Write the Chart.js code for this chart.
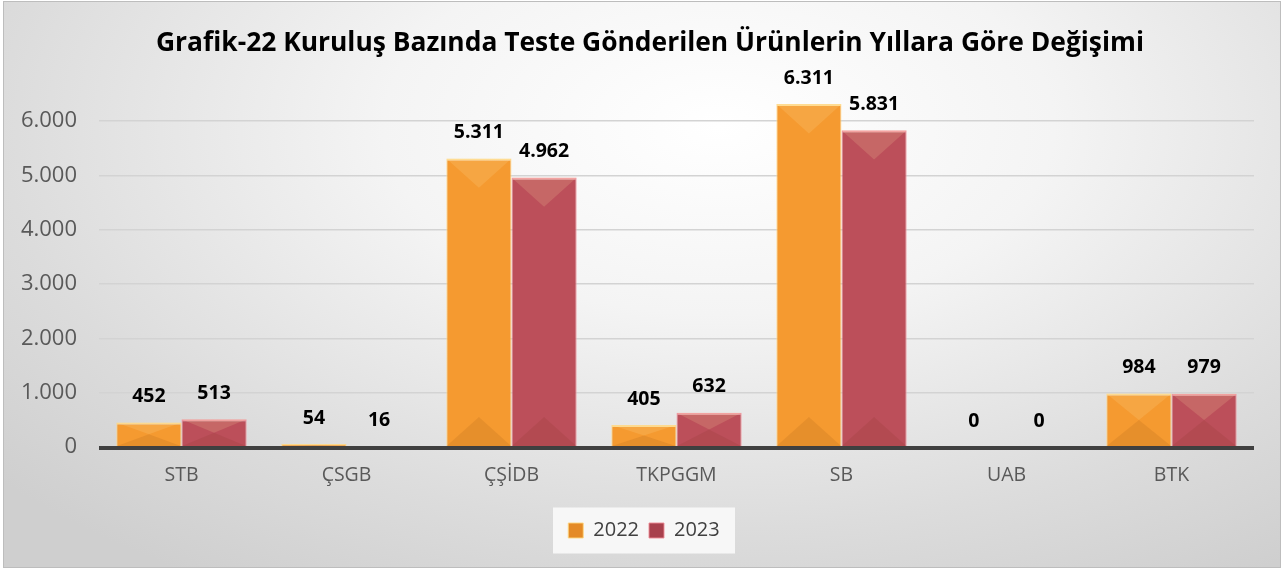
<!DOCTYPE html>
<html>
<head>
<meta charset="utf-8">
<script src="https://cdn.jsdelivr.net/npm/chart.js@4.4.1/dist/chart.umd.min.js"></script>
<style>
  html, body { margin: 0; padding: 0; }
  body { width: 1283px; height: 569px; overflow: hidden; background: #fff; }
  .frame {
    position: absolute; left: 3px; top: 1px; width: 1276px; height: 565px;
    border: 1px solid #bdbdbd;
    background: radial-gradient(ellipse 75% 95% at 56% 22%, #ffffff 0%, #f4f4f4 35%, #dcdcdc 75%, #cfcfcf 100%);
  }
  canvas { position: absolute; left: 0; top: 0; }
</style>
</head>
<body>
<div class="frame"></div>
<canvas id="c" width="1283" height="569"></canvas>
<script>
// Grafik-22: products sent for testing, by institution, 2022 vs 2023
const categories = ['STB', 'ÇSGB', 'ÇŞİDB', 'TKPGGM', 'SB', 'UAB', 'BTK'];
const seriesNames = ['2022', '2023'];
const values2022 = [452, 54, 5311, 405, 6311, 0, 984];
const values2023 = [513, 16, 4962, 632, 5831, 0, 979];
const yTicks = [0, 1000, 2000, 3000, 4000, 5000, 6000];

const FONT = '"Open Sans", "DejaVu Sans", sans-serif';
const fmt = (n) => new Intl.NumberFormat('tr-TR').format(n);

// horizontal shading so the bars read as the bevelled Excel columns
function barFill(base, light, dark) {
  return (ctx) => {
    const el = ctx.element;
    if (!el || el.x == null || !isFinite(el.width)) return base;
    const c = ctx.chart.ctx;
    const g = c.createLinearGradient(el.x - el.width / 2, 0, el.x + el.width / 2, 0);
    g.addColorStop(0, light);
    g.addColorStop(0.55, base);
    g.addColorStop(1, dark);
    return g;
  };
}

// pyramid bevel: light wedge at the top of each column, dark wedge at the foot
const bevel = {
  id: 'bevel',
  afterDatasetsDraw(chart) {
    const { ctx } = chart;
    ctx.save();
    chart.data.datasets.forEach((ds, i) => {
      chart.getDatasetMeta(i).data.forEach((bar) => {
        const h = bar.base - bar.y;
        if (h < 2) return;
        const l = bar.x - bar.width / 2, r = bar.x + bar.width / 2;
        const d = Math.min(bar.width * 0.45, h / 2);
        ctx.fillStyle = 'rgba(255,230,170,0.16)';
        ctx.beginPath();
        ctx.moveTo(l, bar.y); ctx.lineTo(r, bar.y); ctx.lineTo(bar.x, bar.y + d); ctx.closePath();
        ctx.fill();
        ctx.fillStyle = 'rgba(90,30,0,0.09)';
        ctx.beginPath();
        ctx.moveTo(l, bar.base); ctx.lineTo(r, bar.base); ctx.lineTo(bar.x, bar.base - d); ctx.closePath();
        ctx.fill();
      });
    });
    ctx.restore();
  },
};

const valueLabels = {
  id: 'valueLabels',
  afterDatasetsDraw(chart) {
    const { ctx } = chart;
    ctx.save();
    ctx.font = `bold 19.5px ${FONT}`;
    ctx.fillStyle = '#000';
    ctx.textAlign = 'center';
    ctx.textBaseline = 'middle';
    chart.data.datasets.forEach((ds, i) => {
      chart.getDatasetMeta(i).data.forEach((bar, j) => {
        ctx.fillText(fmt(ds.data[j]), bar.x, bar.y - 26);
      });
    });
    ctx.restore();
  },
};

// the original centres title and legend a little right of the canvas middle
const recentre = {
  id: 'recentre',
  afterLayout(chart) {
    if (chart.titleBlock) chart.titleBlock.left += 46;
    if (chart.legend) chart.legend.left += 34;
  },
};

// pale box behind the legend, as in the original
const legendBox = {
  id: 'legendBox',
  beforeDraw(chart) {
    const l = chart.legend;
    if (!l) return;
    const { ctx } = chart;
    const cx = (l.left + l.right) / 2;
    ctx.save();
    ctx.fillStyle = 'rgba(250,250,250,0.9)';
    ctx.fillRect(cx - 91, l.top - 3, 182, l.height + 6);
    ctx.restore();
  },
};

// thick dark zero line
const zeroLine = {
  id: 'zeroLine',
  afterDatasetsDraw(chart) {
    const { ctx, chartArea } = chart;
    const y = chart.scales.y.getPixelForValue(0);
    ctx.save();
    ctx.strokeStyle = '#404040';
    ctx.lineWidth = 4;
    ctx.beginPath();
    ctx.moveTo(chartArea.left, y + 1);
    ctx.lineTo(chartArea.right, y + 1);
    ctx.stroke();
    ctx.restore();
  },
};

new Chart(document.getElementById('c'), {
  type: 'bar',
  data: {
    labels: categories,
    datasets: [
      {
        label: seriesNames[0],
        data: values2022,
        backgroundColor: barFill('#f59a30', '#f9a53a', '#e48a26'),
        borderColor: 'rgba(255,215,130,0.9)',
        borderWidth: { top: 2, left: 1, right: 1, bottom: 0 },
        borderSkipped: false,
      },
      {
        label: seriesNames[1],
        data: values2023,
        backgroundColor: barFill('#bc4f5a', '#c65862', '#a8414d'),
        borderColor: 'rgba(240,140,150,0.9)',
        borderWidth: { top: 2, left: 1, right: 1, bottom: 0 },
        borderSkipped: false,
      },
    ],
  },
  options: {
    responsive: false,
    animation: false,
    layout: { padding: { left: 0, right: 29, top: 0, bottom: 18.5 } },
    categoryPercentage: 0.79,
    barPercentage: 1.0,
    scales: {
      x: {
        grid: { display: false },
        border: { display: false },
        ticks: { color: '#595959', font: { family: FONT, size: 19.5 }, padding: 9 },
        afterFit: (s) => { s.height = 63.5; },
      },
      y: {
        min: 0,
        max: 7000,
        afterBuildTicks: (s) => { s.ticks = yTicks.concat([7000]).map((v) => ({ value: v })); },
        grid: {
          color: (c) => (c.tick && c.tick.value === 7000 ? 'rgba(0,0,0,0)' : '#d3d3d3'),
          lineWidth: 1.5,
          drawTicks: false,
        },
        border: { display: false },
        ticks: {
          color: '#595959',
          font: { family: FONT, size: 22 },
          padding: 22,
          callback: (v) => (v === 7000 ? '' : fmt(v)),
        },
        afterFit: (s) => { s.width = 99; },
      },
    },
    plugins: {
      title: {
        display: true,
        text: 'Grafik-22 Kuruluş Bazında Teste Gönderilen Ürünlerin Yıllara Göre Değişimi',
        color: '#000',
        font: { family: FONT, size: 26.4, weight: 'bold' },
        padding: { top: 28, bottom: 7 },
      },
      legend: {
        position: 'bottom',
        labels: {
          color: '#404040',
          font: { family: FONT, size: 20 },
          boxWidth: 15,
          boxHeight: 15,
          padding: 10,
        },
      },
      tooltip: { enabled: false },
    },
  },
  plugins: [recentre, legendBox, zeroLine, bevel, valueLabels],
});
</script>
</body>
</html>
